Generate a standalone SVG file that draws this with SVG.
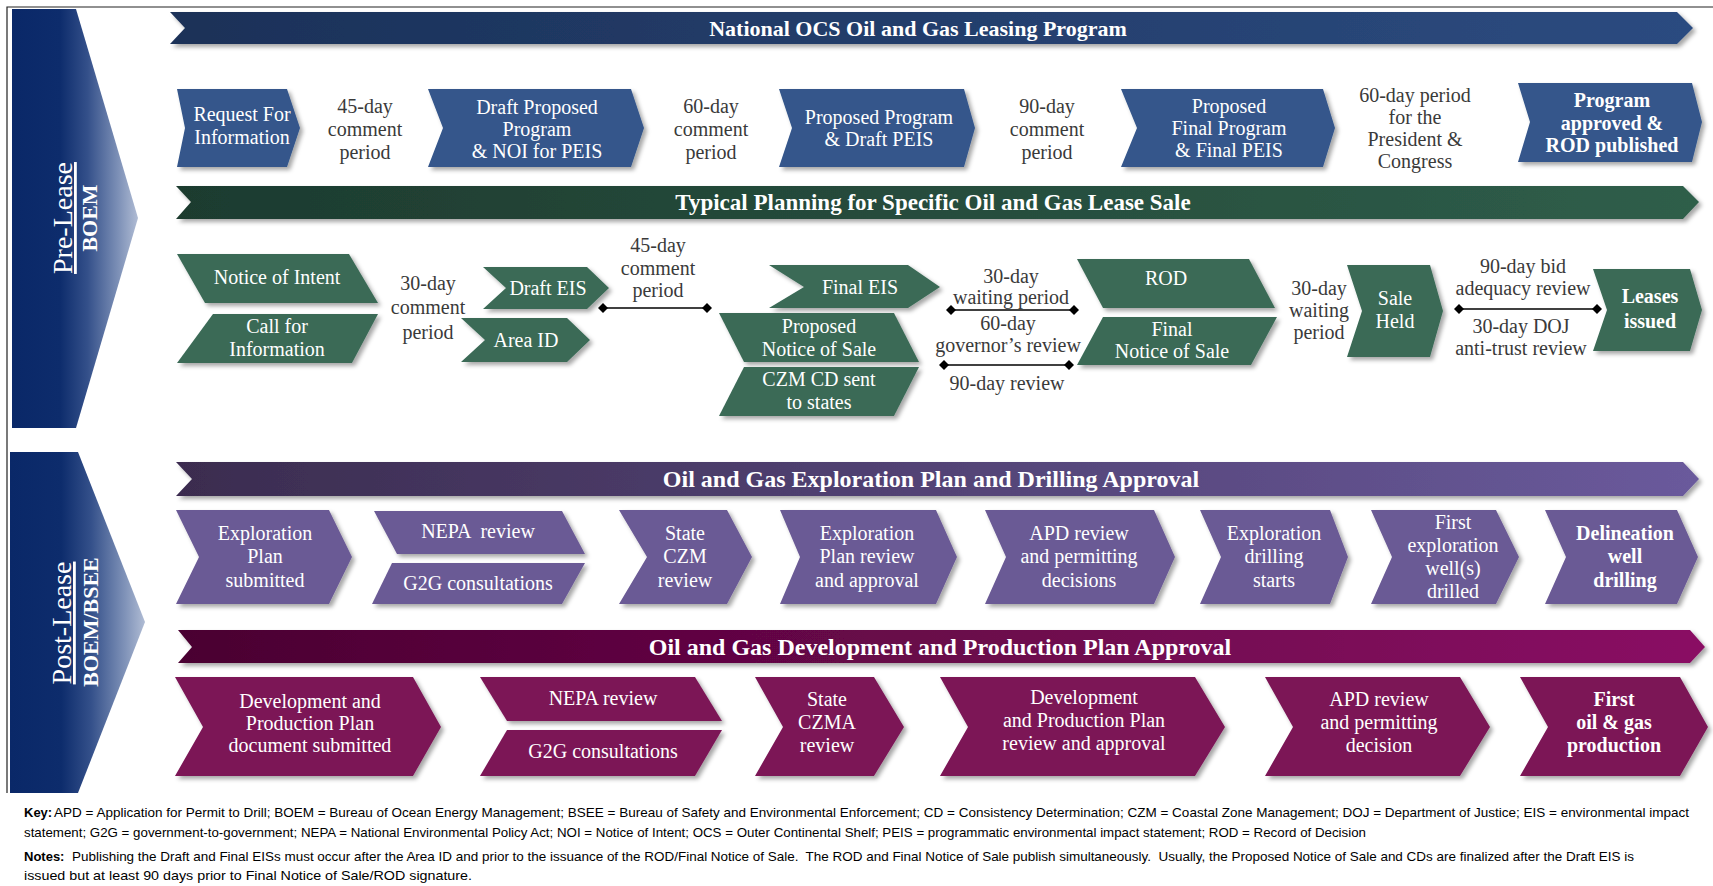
<svg xmlns="http://www.w3.org/2000/svg" width="1713" height="886" viewBox="0 0 1713 886">
<defs>
<style>
.lbl{font-family:"Liberation Serif","DejaVu Serif",serif;font-size:20px;fill:#3a3a3a;text-anchor:middle}
.wt{font-family:"Liberation Serif","DejaVu Serif",serif;font-size:20px;fill:#ffffff;text-anchor:middle}
.wb{font-family:"Liberation Serif","DejaVu Serif",serif;font-size:20px;fill:#ffffff;text-anchor:middle;font-weight:bold}
.ban{font-family:"Liberation Serif","DejaVu Serif",serif;font-size:22px;fill:#ffffff;text-anchor:middle;font-weight:bold}
.side{font-family:"Liberation Serif","DejaVu Serif",serif;fill:#ffffff;text-anchor:middle}
.key{font-family:"Liberation Sans","Arial",sans-serif;font-size:13px;fill:#000}
.r1{fill:#34568b;filter:url(#sh)}
.r2{fill:#3a6a56;filter:url(#sh)}
.r3{fill:#6b5a95;filter:url(#sh)}
.r4{fill:#7b1757;filter:url(#sh)}
.conn{stroke:#000;stroke-width:1.6;fill:none;marker-start:url(#dia);marker-end:url(#dia)}
</style>
<linearGradient id="gSide" x1="0" y1="0" x2="1" y2="0">
<stop offset="0" stop-color="#0a2868"/>
<stop offset="0.38" stop-color="#0d2c6c"/>
<stop offset="0.6" stop-color="#34508a"/>
<stop offset="0.85" stop-color="#7f92b8"/>
<stop offset="1" stop-color="#b0bcd4"/>
</linearGradient>
<linearGradient id="gNavy" x1="0" y1="0" x2="1" y2="0">
<stop offset="0" stop-color="#1b3158"/><stop offset="1" stop-color="#2c4b80"/>
</linearGradient>
<linearGradient id="gGreen" x1="0" y1="0" x2="1" y2="0">
<stop offset="0" stop-color="#1d3b2f"/><stop offset="1" stop-color="#2f5e4a"/>
</linearGradient>
<linearGradient id="gPurple" x1="0" y1="0" x2="1" y2="0">
<stop offset="0" stop-color="#3b2c4f"/><stop offset="1" stop-color="#6a5a9c"/>
</linearGradient>
<linearGradient id="gMag" x1="0" y1="0" x2="1" y2="0">
<stop offset="0" stop-color="#4a0031"/><stop offset="1" stop-color="#8a1064"/>
</linearGradient>
<filter id="sh" x="-10%" y="-10%" width="130%" height="140%">
<feDropShadow dx="3" dy="3" stdDeviation="2" flood-color="#000" flood-opacity="0.35"/>
</filter>
<marker id="dia" viewBox="0 0 10 10" refX="5" refY="5" markerWidth="10" markerHeight="10" markerUnits="userSpaceOnUse" orient="auto">
<path d="M0,5 L5,0 L10,5 L5,10 Z" fill="#000"/>
</marker>
</defs>
<rect x="0" y="0" width="1713" height="886" fill="#ffffff"/>
<path d="M7,793 V7 H1713" fill="none" stroke="#222" stroke-width="1.2"/>

<!-- side chevrons -->
<g id="pre-lease">
<path d="M12,9 L76,9 L138,218 L76,428 L12,428 Z" fill="url(#gSide)"/>
<text class="side" font-size="28" text-decoration="underline" transform="translate(72,218) rotate(-90)">Pre-Lease</text>
<text class="side" font-size="22" font-weight="bold" transform="translate(97,218) rotate(-90)">BOEM</text>
</g>
<g id="post-lease">
<path d="M10,452 L78,452 L145,622 L78,793 L10,793 Z" fill="url(#gSide)"/>
<text class="side" font-size="28" text-decoration="underline" transform="translate(71,623) rotate(-90)">Post-Lease</text>
<text class="side" font-size="22" font-weight="bold" transform="translate(98,622) rotate(-90)">BOEM/BSEE</text>
</g>

<!-- banners -->
<g id="banner-national">
<path d="M170,12 L1677,12 L1693,28 L1677,44 L170,44 L185,28 Z" fill="url(#gNavy)" filter="url(#sh)"/>
<text class="ban" x="918" y="36">National OCS Oil and Gas Leasing Program</text>
</g>
<g id="banner-planning">
<path d="M176,186 L1683,186 L1699,202 L1683,219 L176,219 L191,202 Z" fill="url(#gGreen)" filter="url(#sh)"/>
<text class="ban" x="933" y="210" style="font-size:23px">Typical Planning for Specific Oil and Gas Lease Sale</text>
</g>
<g id="banner-exploration">
<path d="M176,462 L1683,462 L1699,479 L1683,496 L176,496 L192,479 Z" fill="url(#gPurple)" filter="url(#sh)"/>
<text class="ban" x="931" y="487" style="font-size:24px">Oil and Gas Exploration Plan and Drilling Approval</text>
</g>
<g id="banner-development">
<path d="M178,630 L1690,630 L1705,647 L1690,663 L178,663 L192,647 Z" fill="url(#gMag)" filter="url(#sh)"/>
<text class="ban" x="940" y="655" style="font-size:24px">Oil and Gas Development and Production Plan Approval</text>
</g>

<!-- row 1 -->
<g id="n-rfi">
<path class="r1" d="M177,89 L287,89 L300,128 L287,167 L177,167 L185,128 Z"/>
<text class="wt"><tspan x="242" y="121">Request For</tspan><tspan x="242" y="144">Information</tspan></text>
</g>
<g id="t-45a"><text class="lbl"><tspan x="365" y="113">45-day</tspan><tspan x="365" y="136">comment</tspan><tspan x="365" y="159">period</tspan></text></g>
<g id="n-dpp">
<path class="r1" d="M428,89 L631,89 L644,128 L631,167 L428,167 L443,128 Z"/>
<text class="wt"><tspan x="537" y="114">Draft Proposed</tspan><tspan x="537" y="136">Program</tspan><tspan x="537" y="158">&amp; NOI for PEIS</tspan></text>
</g>
<g id="t-60a"><text class="lbl"><tspan x="711" y="113">60-day</tspan><tspan x="711" y="136">comment</tspan><tspan x="711" y="159">period</tspan></text></g>
<g id="n-pp">
<path class="r1" d="M779,89 L964,89 L975,128 L964,167 L779,167 L792,128 Z"/>
<text class="wt"><tspan x="879" y="124">Proposed Program</tspan><tspan x="879" y="146">&amp; Draft PEIS</tspan></text>
</g>
<g id="t-90a"><text class="lbl"><tspan x="1047" y="113">90-day</tspan><tspan x="1047" y="136">comment</tspan><tspan x="1047" y="159">period</tspan></text></g>
<g id="n-pfp">
<path class="r1" d="M1121,89 L1323,89 L1335,128 L1323,167 L1121,167 L1137,128 Z"/>
<text class="wt"><tspan x="1229" y="113">Proposed</tspan><tspan x="1229" y="135">Final Program</tspan><tspan x="1229" y="157">&amp; Final PEIS</tspan></text>
</g>
<g id="t-60b"><text class="lbl"><tspan x="1415" y="102">60-day period</tspan><tspan x="1415" y="124">for the</tspan><tspan x="1415" y="146">President &amp;</tspan><tspan x="1415" y="168">Congress</tspan></text></g>
<g id="n-approved">
<path class="r1" d="M1518,83 L1692,83 L1702,122 L1692,162 L1518,162 L1530,122 Z"/>
<text class="wb"><tspan x="1612" y="107">Program</tspan><tspan x="1612" y="130">approved &amp;</tspan><tspan x="1612" y="152">ROD published</tspan></text>
</g>

<!-- row 2 -->
<g id="n-noi">
<path class="r2" d="M177,254 L349,254 L378,303 L205,303 Z"/>
<text class="wt" x="277" y="284">Notice of Intent</text>
</g>
<g id="n-cfi">
<path class="r2" d="M213,314 L378,314 L352,363 L177,363 Z"/>
<text class="wt"><tspan x="277" y="333">Call for</tspan><tspan x="277" y="356">Information</tspan></text>
</g>
<g id="t-30a"><text class="lbl"><tspan x="428" y="290">30-day</tspan><tspan x="428" y="314">comment</tspan><tspan x="428" y="339">period</tspan></text></g>
<g id="n-deis">
<path class="r2" d="M483,267 L587,267 L609,288 L587,309 L483,309 L506,288 Z"/>
<text class="wt" x="548" y="295">Draft EIS</text>
</g>
<g id="n-area">
<path class="r2" d="M461,318 L567,318 L590,340 L567,362 L461,362 L485,340 Z"/>
<text class="wt" x="526" y="347">Area ID</text>
</g>
<g id="t-45b"><text class="lbl"><tspan x="658" y="252">45-day</tspan><tspan x="658" y="275">comment</tspan><tspan x="658" y="297">period</tspan></text></g>
<g id="n-feis">
<path class="r2" d="M769,265 L908,265 L940,287 L908,308 L769,308 L804,287 Z"/>
<text class="wt" x="860" y="294">Final EIS</text>
</g>
<g id="n-pnos">
<path class="r2" d="M719,313 L894,313 L919,362 L744,362 Z"/>
<text class="wt"><tspan x="819" y="333">Proposed</tspan><tspan x="819" y="356">Notice of Sale</tspan></text>
</g>
<g id="n-czm">
<path class="r2" d="M744,367 L919,367 L894,416 L719,416 Z"/>
<text class="wt"><tspan x="819" y="386">CZM CD sent</tspan><tspan x="819" y="409">to states</tspan></text>
</g>
<g id="t-30w"><text class="lbl"><tspan x="1011" y="283">30-day</tspan><tspan x="1011" y="304">waiting period</tspan></text></g>
<g id="t-60g"><text class="lbl"><tspan x="1008" y="330">60-day</tspan><tspan x="1008" y="352">governor’s review</tspan></text></g>
<g id="t-90r"><text class="lbl" x="1007" y="390">90-day review</text></g>
<g id="n-rod">
<path class="r2" d="M1077,259 L1249,259 L1275,308 L1103,308 Z"/>
<text class="wt" x="1166" y="285">ROD</text>
</g>
<g id="n-fnos">
<path class="r2" d="M1103,317 L1277,317 L1251,365 L1077,365 Z"/>
<text class="wt"><tspan x="1172" y="336">Final</tspan><tspan x="1172" y="358">Notice of Sale</tspan></text>
</g>
<g id="t-30b"><text class="lbl"><tspan x="1319" y="295">30-day</tspan><tspan x="1319" y="317">waiting</tspan><tspan x="1319" y="339">period</tspan></text></g>
<g id="n-sale">
<path class="r2" d="M1347,265 L1430,265 L1443,311 L1430,357 L1347,357 L1362,311 Z"/>
<text class="wt"><tspan x="1395" y="305">Sale</tspan><tspan x="1395" y="328">Held</tspan></text>
</g>
<g id="t-90bid"><text class="lbl"><tspan x="1523" y="273">90-day bid</tspan><tspan x="1523" y="295">adequacy review</tspan></text></g>
<g id="t-30doj"><text class="lbl"><tspan x="1521" y="333">30-day DOJ</tspan><tspan x="1521" y="355">anti-trust review</tspan></text></g>
<g id="n-leases">
<path class="r2" d="M1593,269 L1690,269 L1702,310 L1690,351 L1593,351 L1607,310 Z"/>
<text class="wb"><tspan x="1650" y="303">Leases</tspan><tspan x="1650" y="328">issued</tspan></text>
</g>

<!-- row 3 -->
<g id="n-eps">
<path class="r3" d="M176,510 L329,510 L352,557 L329,604 L176,604 L199,557 Z"/>
<text class="wt"><tspan x="265" y="540">Exploration</tspan><tspan x="265" y="563">Plan</tspan><tspan x="265" y="587">submitted</tspan></text>
</g>
<g id="n-nepa1">
<path class="r3" d="M374,511 L562,511 L585,554 L397,554 Z"/>
<text class="wt" x="478" y="538" xml:space="preserve">NEPA  review</text>
</g>
<g id="n-g2g1">
<path class="r3" d="M392,563 L585,563 L562,604 L372,604 Z"/>
<text class="wt" x="478" y="590">G2G consultations</text>
</g>
<g id="n-czm3">
<path class="r3" d="M619,510 L727,510 L752,557 L727,604 L619,604 L647,557 Z"/>
<text class="wt"><tspan x="685" y="540">State</tspan><tspan x="685" y="563">CZM</tspan><tspan x="685" y="587">review</tspan></text>
</g>
<g id="n-epr">
<path class="r3" d="M780,510 L936,510 L957,557 L936,604 L780,604 L800,557 Z"/>
<text class="wt"><tspan x="867" y="540">Exploration</tspan><tspan x="867" y="563">Plan review</tspan><tspan x="867" y="587">and approval</tspan></text>
</g>
<g id="n-apd3">
<path class="r3" d="M985,510 L1154,510 L1175,557 L1154,604 L985,604 L1006,557 Z"/>
<text class="wt"><tspan x="1079" y="540">APD review</tspan><tspan x="1079" y="563">and permitting</tspan><tspan x="1079" y="587">decisions</tspan></text>
</g>
<g id="n-eds">
<path class="r3" d="M1200,510 L1330,510 L1348,557 L1330,604 L1200,604 L1221,557 Z"/>
<text class="wt"><tspan x="1274" y="540">Exploration</tspan><tspan x="1274" y="563">drilling</tspan><tspan x="1274" y="587">starts</tspan></text>
</g>
<g id="n-few">
<path class="r3" d="M1371,510 L1496,510 L1519,557 L1496,604 L1371,604 L1392,557 Z"/>
<text class="wt"><tspan x="1453" y="529">First</tspan><tspan x="1453" y="552">exploration</tspan><tspan x="1453" y="575">well(s)</tspan><tspan x="1453" y="598">drilled</tspan></text>
</g>
<g id="n-delin">
<path class="r3" d="M1545,510 L1677,510 L1698,557 L1677,604 L1545,604 L1566,557 Z"/>
<text class="wb"><tspan x="1625" y="540">Delineation</tspan><tspan x="1625" y="563">well</tspan><tspan x="1625" y="587">drilling</tspan></text>
</g>

<!-- row 4 -->
<g id="n-dpp4">
<path class="r4" d="M175,677 L413,677 L441,727 L413,776 L175,776 L203,727 Z"/>
<text class="wt"><tspan x="310" y="708">Development and</tspan><tspan x="310" y="730">Production Plan</tspan><tspan x="310" y="752">document submitted</tspan></text>
</g>
<g id="n-nepa4">
<path class="r4" d="M480,677 L695,677 L722,721 L507,721 Z"/>
<text class="wt" x="603" y="705">NEPA review</text>
</g>
<g id="n-g2g4">
<path class="r4" d="M507,730 L722,730 L695,776 L480,776 Z"/>
<text class="wt" x="603" y="758">G2G consultations</text>
</g>
<g id="n-czma">
<path class="r4" d="M755,677 L874,677 L904,727 L874,776 L755,776 L783,727 Z"/>
<text class="wt"><tspan x="827" y="706">State</tspan><tspan x="827" y="729">CZMA</tspan><tspan x="827" y="752">review</tspan></text>
</g>
<g id="n-dpr">
<path class="r4" d="M940,677 L1195,677 L1225,727 L1195,776 L940,776 L968,727 Z"/>
<text class="wt"><tspan x="1084" y="704">Development</tspan><tspan x="1084" y="727">and Production Plan</tspan><tspan x="1084" y="750">review and approval</tspan></text>
</g>
<g id="n-apd4">
<path class="r4" d="M1265,677 L1460,677 L1490,727 L1460,776 L1265,776 L1293,727 Z"/>
<text class="wt"><tspan x="1379" y="706">APD review</tspan><tspan x="1379" y="729">and permitting</tspan><tspan x="1379" y="752">decision</tspan></text>
</g>
<g id="n-first">
<path class="r4" d="M1520,677 L1680,677 L1708,727 L1680,776 L1520,776 L1548,727 Z"/>
<text class="wb"><tspan x="1614" y="706">First</tspan><tspan x="1614" y="729">oil &amp; gas</tspan><tspan x="1614" y="752">production</tspan></text>
</g>

<!-- connectors -->
<g id="connectors">
<line class="conn" x1="603" y1="308" x2="707" y2="308"/>
<line class="conn" x1="951" y1="310" x2="1074" y2="310"/>
<line class="conn" x1="944" y1="365" x2="1069" y2="365"/>
<line class="conn" x1="1459" y1="309" x2="1597" y2="309"/>
</g>

<!-- key and notes -->
<g id="key">
<text class="key" x="24" y="817" font-weight="bold">Key:</text>
<text class="key" x="54" y="817" textLength="1635" lengthAdjust="spacingAndGlyphs">APD = Application for Permit to Drill; BOEM = Bureau of Ocean Energy Management; BSEE = Bureau of Safety and Environmental Enforcement; CD = Consistency Determination; CZM = Coastal Zone Management; DOJ = Department of Justice; EIS = environmental impact</text>
<text class="key" x="24" y="837" textLength="1342" lengthAdjust="spacingAndGlyphs">statement; G2G = government-to-government; NEPA = National Environmental Policy Act; NOI = Notice of Intent; OCS = Outer Continental Shelf; PEIS = programmatic environmental impact statement; ROD = Record of Decision</text>
<text class="key" x="24" y="861" font-weight="bold">Notes:</text>
<text class="key" x="72" y="861" textLength="1562" lengthAdjust="spacingAndGlyphs" xml:space="preserve">Publishing the Draft and Final EISs must occur after the Area ID and prior to the issuance of the ROD/Final Notice of Sale.  The ROD and Final Notice of Sale publish simultaneously.  Usually, the Proposed Notice of Sale and CDs are finalized after the Draft EIS is</text>
<text class="key" x="24" y="880" textLength="448" lengthAdjust="spacingAndGlyphs">issued but at least 90 days prior to Final Notice of Sale/ROD signature.</text>
</g>
</svg>
